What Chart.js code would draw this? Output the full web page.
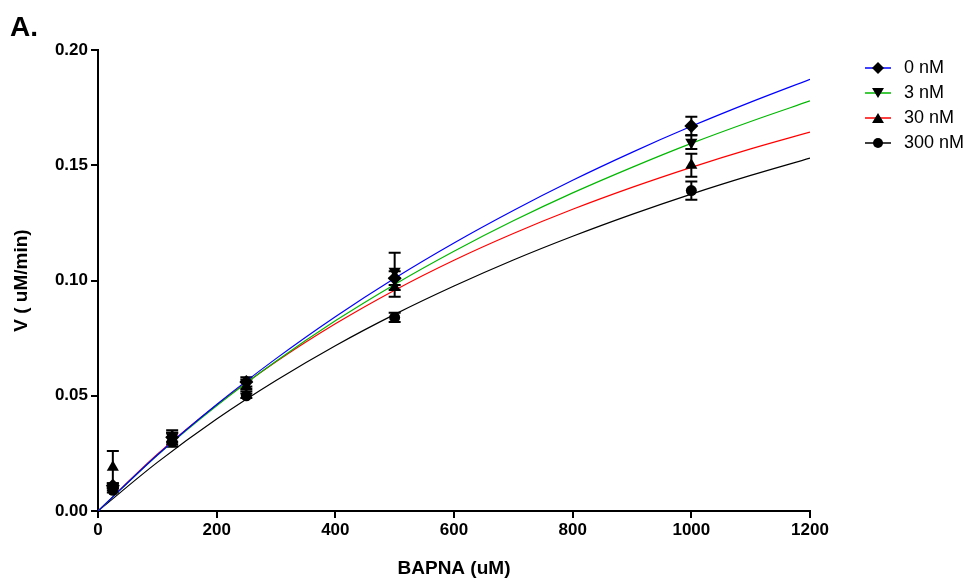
<!DOCTYPE html>
<html lang="en">
<head>
    <meta charset="UTF-8">
    <title>BAPNA kinetics</title>
    <script src="https://cdn.jsdelivr.net/npm/chart.js"></script>
    <style>
        body { margin: 0; background: #fff; font-family: "Liberation Sans", Arial, sans-serif; }
        #wrap { position: relative; width: 969px; height: 580px; }
        #panelLabel { position: absolute; left: 10px; top: 11px; font-size: 28px; font-weight: bold; }
        #legend { position: absolute; left: 864px; top: 55px; }
        .legItem { display: flex; align-items: center; height: 25px; font-size: 18px; }
        .legItem svg { margin-right: 12px; }
    </style>
</head>
<body>
<div id="wrap">
    <canvas id="kinChart" width="969" height="580"></canvas>
    <div id="panelLabel">A.</div>
    <div id="legend"></div>
</div>
<script>
    // fitted curves, every 100 uM
    let curveX = [0, 100, 200, 300, 400, 500, 600, 700, 800, 900, 1000, 1100, 1200];
    let curve0 = [0, 0.0243, 0.0462, 0.0661, 0.0843, 0.1010, 0.1163, 0.1304, 0.1435, 0.1556, 0.1669, 0.1774, 0.1873];
    let curve3 = [0, 0.0242, 0.0457, 0.0650, 0.0825, 0.0983, 0.1127, 0.1259, 0.1380, 0.1491, 0.1595, 0.1690, 0.1779];
    let curve30 = [0, 0.0246, 0.0460, 0.0647, 0.0812, 0.0958, 0.1088, 0.1204, 0.1309, 0.1404, 0.1491, 0.1571, 0.1644];
    let curve300 = [0, 0.0211, 0.0399, 0.0566, 0.0717, 0.0853, 0.0976, 0.1089, 0.1192, 0.1287, 0.1375, 0.1456, 0.1531];

    // measured points (mean and error)
    let substrate = [25, 125, 250, 500, 1000];
    let v0 = [0.011, 0.032, 0.056, 0.101, 0.167];
    let e0 = [0.001, 0.002, 0.002, 0.003, 0.004];
    let v3 = [0.010, 0.032, 0.055, 0.104, 0.160];
    let e3 = [0.001, 0.003, 0.002, 0.008, 0.003];
    let v30 = [0.019, 0.031, 0.054, 0.097, 0.150];
    let e30 = [0.007, 0.003, 0.002, 0.004, 0.005];
    let v300 = [0.009, 0.030, 0.050, 0.084, 0.139];
    let e300 = [0.001, 0.002, 0.001, 0.002, 0.004];

    let seriesNames = ["0 nM", "3 nM", "30 nM", "300 nM"];
    let lineColors = ["#0000ff", "#00b800", "#ff0000", "#000000"];
    let markers = ["rectRot", "triangle", "triangle", "circle"];
    let markerRot = [0, 180, 0, 0];
    let markerSize = [7, 7, 7, 5.5];

    let curves = [curve0, curve3, curve30, curve300];
    let means = [v0, v3, v30, v300];
    let errs = [e0, e3, e30, e300];

    let datasets = [];
    curves.forEach(function(c, i) {
        datasets.push({
            type: "line",
            data: curveX.map(function(x, k) { return { x: x, y: c[k] }; }),
            borderColor: lineColors[i],
            borderWidth: 1.2,
            pointRadius: 0,
            cubicInterpolationMode: "monotone",
            fill: false,
            order: 2
        });
    });
    means.forEach(function(m, i) {
        datasets.push({
            type: "scatter",
            data: substrate.map(function(x, k) { return { x: x, y: m[k], err: errs[i][k] }; }),
            backgroundColor: "#000",
            borderColor: "#000",
            borderWidth: 0,
            pointStyle: markers[i],
            rotation: markerRot[i],
            pointRadius: markerSize[i],
            isPoints: true,
            order: 1
        });
    });

    // error bars drawn through the chart's own scales
    const errorBars = {
        id: "errorBars",
        beforeDatasetsDraw(chart) {
            const ctx = chart.ctx;
            const xs = chart.scales.x, ys = chart.scales.y;
            ctx.save();
            ctx.strokeStyle = "#000";
            ctx.lineWidth = 2;
            chart.data.datasets.forEach(function(ds) {
                if (!ds.isPoints) return;
                ds.data.forEach(function(p) {
                    const px = xs.getPixelForValue(p.x);
                    const top = ys.getPixelForValue(p.y + p.err);
                    const bot = ys.getPixelForValue(p.y - p.err);
                    ctx.beginPath();
                    ctx.moveTo(px, top); ctx.lineTo(px, bot);
                    ctx.moveTo(px - 6, top); ctx.lineTo(px + 6, top);
                    ctx.moveTo(px - 6, bot); ctx.lineTo(px + 6, bot);
                    ctx.stroke();
                });
            });
            ctx.restore();
        }
    };

    const tickFont = { family: "'Liberation Sans', Arial", size: 17, weight: "bold" };
    const titleFont = { family: "'Liberation Sans', Arial", size: 19, weight: "bold" };

    new Chart(document.getElementById("kinChart"), {
        type: "scatter",
        data: { datasets: datasets },
        plugins: [errorBars],
        options: {
            responsive: false,
            animation: false,
            layout: { padding: { left: 0, right: 159, top: 50, bottom: 0 } },
            plugins: { legend: { display: false }, tooltip: { enabled: false } },
            scales: {
                x: {
                    type: "linear",
                    min: 0, max: 1200,
                    ticks: { stepSize: 200, color: "#000", font: tickFont, padding: 2,
                             callback: function(v) { return String(v); } },
                    grid: { drawOnChartArea: false, drawTicks: true, tickLength: 7, color: "#000", lineWidth: 2 },
                    border: { color: "#000", width: 2 },
                    title: { display: true, text: "BAPNA (uM)", color: "#000", font: titleFont, padding: { top: 0, bottom: 0 } },
                    afterFit: function(s) { s.height = 69; }
                },
                y: {
                    min: 0, max: 0.2,
                    ticks: { stepSize: 0.05, color: "#000", font: tickFont, padding: 3,
                             callback: function(v) { return v.toFixed(2); } },
                    grid: { drawOnChartArea: false, drawTicks: true, tickLength: 7, color: "#000", lineWidth: 2 },
                    border: { color: "#000", width: 2 },
                    title: { display: true, text: "V ( uM/min)", color: "#000", font: titleFont, padding: { top: 10, bottom: 0 } },
                    afterFit: function(s) { s.width = 98; }
                }
            }
        }
    });

    // legend: colored line with black marker
    function markerSvg(i) {
        let shape;
        if (markers[i] === "rectRot") shape = '<polygon points="14,1 20,7 14,13 8,7" fill="#000"/>';
        else if (markers[i] === "circle") shape = '<circle cx="14" cy="7" r="5" fill="#000"/>';
        else if (markerRot[i] === 180) shape = '<polygon points="8,2 20,2 14,12" fill="#000"/>';
        else shape = '<polygon points="8,12 20,12 14,2" fill="#000"/>';
        return '<svg width="28" height="14"><line x1="1" y1="7" x2="27" y2="7" stroke="' + lineColors[i] + '" stroke-width="1.5"/>' + shape + '</svg>';
    }
    let legendHtml = "";
    seriesNames.forEach(function(n, i) {
        legendHtml += '<div class="legItem">' + markerSvg(i) + '<span>' + n + '</span></div>';
    });
    document.getElementById("legend").innerHTML = legendHtml;
</script>
</body>
</html>
